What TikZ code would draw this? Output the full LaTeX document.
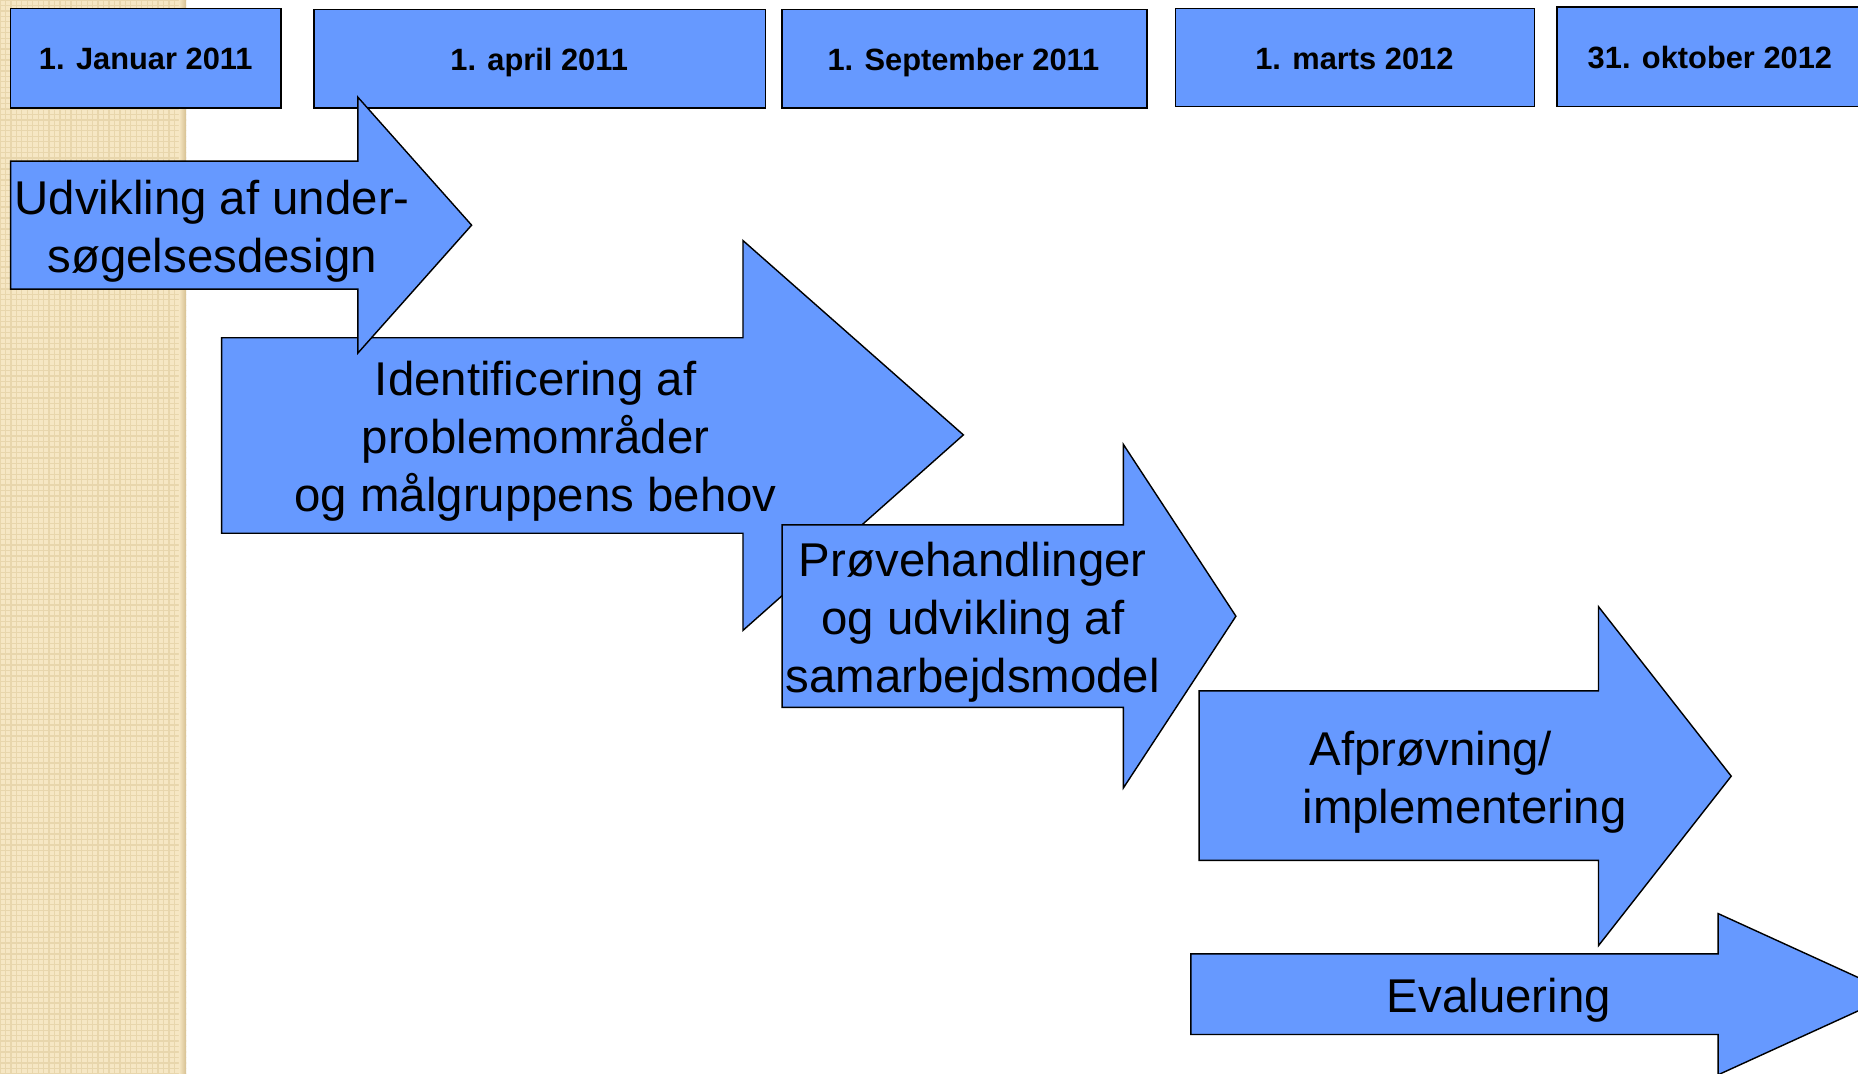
\documentclass[tikz,border=0pt]{standalone}
\usepackage{fontspec}
\setmainfont{Liberation Sans}
\definecolor{arrowblue}{RGB}{102,153,255}
\definecolor{beige}{RGB}{246,231,196}
\definecolor{beigeline}{RGB}{232,214,172}
\definecolor{beigedark}{RGB}{214,192,146}
\begin{document}
\begin{tikzpicture}[x=1pt,y=-1pt,
  blueshape/.style={fill=arrowblue, draw=black, line width=1.2pt, line join=miter},
  lbl/.style={font=\fontsize{40}{49}\selectfont, align=center, inner sep=0pt},
  datelbl/.style={font=\bfseries\fontsize{26}{31}\selectfont, inner sep=0pt, anchor=base}]
\useasboundingbox (0,0) rectangle (1568,906);
\clip (0,0) rectangle (1568,906);
\fill[white] (0,0) rectangle (1568,906);
% beige side strip with texture
\fill[beige] (0,0) rectangle (157,906);
\begin{scope}
\clip (0,0) rectangle (157,906);
\draw[beigeline, line width=1.1pt, step=4.6pt] (0,0) grid (160,910);
\end{scope}
\shade[left color=beige, right color=beigedark] (151,0) rectangle (157,906);

% date boxes
\path[blueshape] (9,7) rectangle (237,91);
\node[datelbl] (d1) at (123,59) {1. Januar 2011};
\path[blueshape] (265,8) rectangle (646,91);
\node[datelbl] (d2) at (455,59.5) {1. april 2011};
\path[blueshape] (660,8) rectangle (968,91);
\node[datelbl] (d3) at (813,59.5) {1. September 2011};
\path[blueshape] (992,7) rectangle (1295,90);
\node[datelbl] (d4) at (1143,59) {1. marts 2012};
\path[blueshape] (1314,6) rectangle (1590,90);
\node[datelbl] (d5) at (1443,58) {31. oktober 2012};

% arrow 2
\path[blueshape] (187,285) -- (627,285) -- (627,203) -- (813,367) -- (627,532) -- (627,450) -- (187,450) -- cycle;
\node[lbl] (a2) at (452,372) {Identificering af\\problemområder\\og målgruppens behov};

% arrow 1
\path[blueshape] (9,136) -- (302,136) -- (302,82) -- (398,190) -- (302,298) -- (302,244) -- (9,244) -- cycle;
\node[lbl] (a1) at (179,195) {Udvikling af under-\\søgelsesdesign};

% arrow 3
\path[blueshape] (660,443) -- (948,443) -- (948,375) -- (1043,520) -- (948,665) -- (948,597) -- (660,597) -- cycle;
\node[lbl] (a3) at (821,525) {Prøvehandlinger\\og udvikling af\\samarbejdsmodel};

% arrow 4
\path[blueshape] (1012,583) -- (1349,583) -- (1349,512) -- (1461,655) -- (1349,798) -- (1349,726) -- (1012,726) -- cycle;
\node[lbl, align=left, anchor=west] (a4) at (1099,660) {\hspace*{6pt}Afprøvning/\\implementering};

% arrow 5
\path[blueshape] (1005,805) -- (1450,805) -- (1450,771) -- (1599,839) -- (1450,907) -- (1450,873) -- (1005,873) -- cycle;
\node[lbl] (a5) at (1265,844) {Evaluering};
\end{tikzpicture}
\end{document}
